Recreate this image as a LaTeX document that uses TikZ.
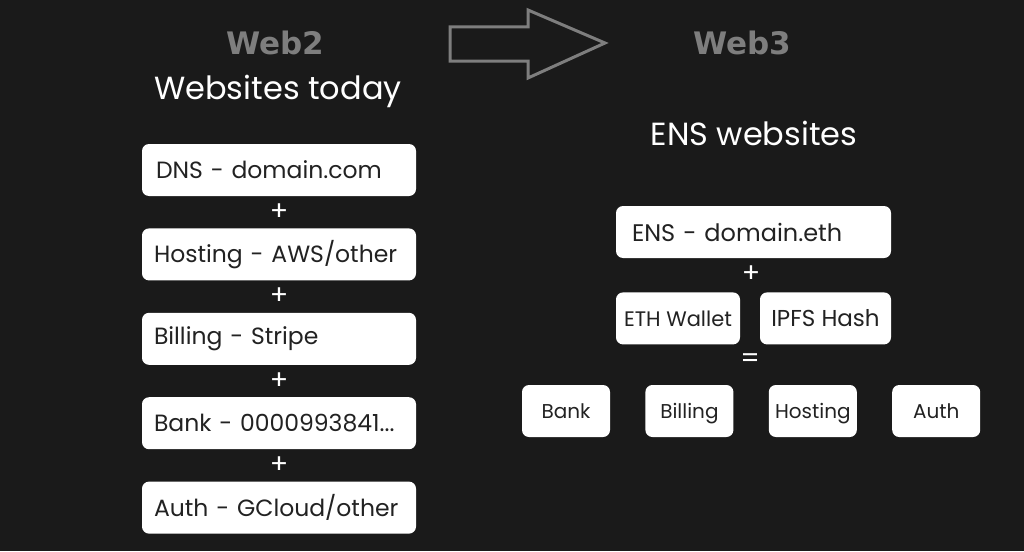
\documentclass[tikz,border=0pt]{standalone}
\usepackage{fontspec}
\setmainfont{Poppins}
\newfontfamily\headfont{DejaVu Sans}
\usepackage{xcolor}
\usetikzlibrary{positioning,calc}
\definecolor{bgdark}{HTML}{1A1A1A}
\definecolor{boxtext}{HTML}{222222}
\definecolor{headgray}{HTML}{7E7E7E}

\begin{document}
\begin{tikzpicture}[
  x=1pt, y=-1pt,
  node distance=32pt and 35pt,
  block/.style={fill=white,rounded corners=7pt,text=boxtext,align=left,text width=250pt,inner xsep=12pt,minimum height=52pt,font=\fontsize{23.5}{26}\selectfont},
  small/.style={fill=white,rounded corners=7pt,text=boxtext,align=center,minimum width=88pt,minimum height=52pt,inner sep=2pt,font=\fontsize{20}{23}\selectfont},
  part/.style={small,text height=15pt,text depth=0pt},
  op/.style={text=white,font=\fontsize{27}{29}\selectfont,inner sep=0pt},
  head/.style={text=headgray,font=\headfont\bfseries\fontsize{31}{34}\selectfont},
  title/.style={text=white,font=\fontsize{32}{36}\selectfont}
]
\useasboundingbox[fill=bgdark] (0,0) rectangle (1024,551);

% headings
\node[head] (web2) at (275,43) {Web2};
\node[title] (today) at (278,91) {Websites today};
\node[head] (web3) at (742,43) {Web3};
\node[title] (enssites) at (754,133) {ENS websites};

% big arrow between the two columns
\draw[headgray,line width=3pt,line join=miter]
  (450,27) -- (528,27) -- (528,10) -- (605,43) -- (528,78) -- (528,61) -- (450,61) -- cycle;

% web2 column
\node[block, text width=246pt, inner xsep=14pt] (dns) at (279,170) {DNS - domain.com};
\node[block, below=of dns] (hosting) {Hosting - AWS/other};
\node[block, below=of hosting] (billing) {Billing - Stripe};
\node[block, below=of billing] (bank) {Bank - 0000993841...};
\node[block, below=of bank] (auth) {Auth - GCloud/other};
\node[op] (p1) at ($(dns)!0.5!(hosting)$) {+};
\node[op] (p2) at ($(hosting)!0.5!(billing)$) {+};
\node[op] (p3) at ($(billing)!0.5!(bank)$) {+};
\node[op] (p4) at ($(bank)!0.5!(auth)$) {+};

% web3 column
\node[block, text width=243pt, inner xsep=16pt, font=\fontsize{24}{27}\selectfont] (ens) at (753.5,232) {ENS - domain.eth};
\node[op] (p5) at (751,274) {+};
\node[small, minimum width=124pt, below right=34pt and 0pt of ens.south west, font=\fontsize{21}{24}\selectfont] (wallet) {ETH Wallet};
\node[small, minimum width=131pt, below left=34pt and 0pt of ens.south east, font=\fontsize{23}{26}\selectfont] (ipfs) {IPFS Hash};
\node[op] (eq) at (750,361) {=};
\node[part] (bank3) at (566,411) {Bank};
\node[part, right=of bank3] (billing3) {Billing};
\node[part, right=of billing3] (hosting3) {Hosting};
\node[part, right=of hosting3] (auth3) {Auth};
\end{tikzpicture}
\end{document}
